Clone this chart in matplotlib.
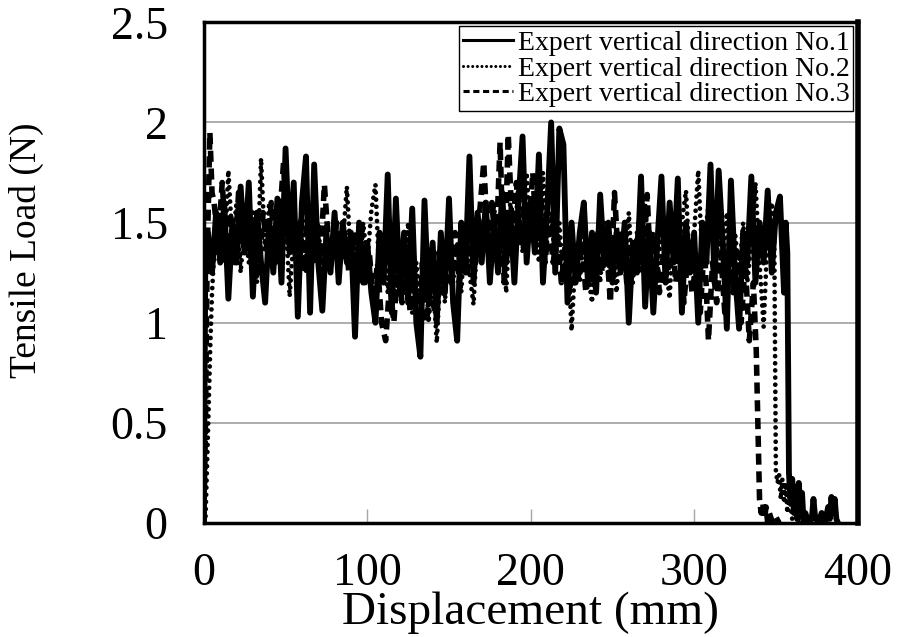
import numpy as np
import matplotlib
matplotlib.use("Agg")
import matplotlib.pyplot as plt

plt.rcParams['font.family'] = ['Liberation Serif', 'DejaVu Serif']

# series 1 (solid): readings every 2.5 mm from 2.5 mm, then the break-off tail
s1_start = [0.0, 1.0]
s1_start_load = [0.0, 1.45]
s1_body = [1.45, 1.25, 1.55, 1.3, 1.6, 1.12, 1.5, 1.3,
           1.68, 1.35, 1.7, 1.13, 1.55, 1.3, 1.1, 1.5,
           1.25, 1.62, 1.2, 1.87, 1.35, 1.7, 1.03, 1.6,
           1.83, 1.05, 1.79, 1.3, 1.06, 1.45, 1.25, 1.55,
           1.2, 1.5, 1.3, 1.45, 0.93, 1.5, 1.2, 1.4,
           1.15, 1.0, 1.45, 1.2, 1.74, 1.05, 1.62, 1.15,
           1.45, 1.1, 1.57, 1.0, 0.83, 1.61, 1.1, 1.4,
           1.0, 1.45, 1.15, 1.62, 1.1, 0.91, 1.5, 1.25,
           1.83, 1.2, 1.55, 1.3, 1.6, 1.2, 1.5, 1.25,
           1.65, 1.3, 1.55, 1.2, 1.6, 1.93, 1.3, 1.6,
           1.35, 1.84, 1.2, 1.55, 2.0, 1.25, 1.97, 1.89,
           1.1, 1.5, 1.2, 1.45, 1.6, 1.2, 1.45, 1.15,
           1.64, 1.3, 1.5, 1.2, 1.45, 1.25, 1.5, 1.0,
           1.4, 1.25, 1.73, 1.08, 1.45, 1.05, 1.4, 1.73,
           1.2, 1.6, 1.3, 1.72, 1.05, 1.5, 1.25, 1.45,
           1.0, 1.5, 1.3, 1.79, 1.2, 1.76, 1.4, 0.97,
           1.71, 1.25, 0.97, 1.45, 1.3, 1.73, 1.2, 1.5,
           1.3, 1.66, 1.25, 1.55, 1.63, 1.15]
s1_tail = [356, 357, 358, 359, 360, 361, 362, 363, 364, 365, 366, 367, 368,
           370, 372, 373, 374, 376, 378, 380, 382, 383, 384, 385, 386, 387, 388]
s1_tail_load = [1.5, 1.35, 0.25, 0.1, 0.22, 0.05, 0.18, 0.02, 0.2, 0.08, 0.15, 0.0, 0.05,
                0.0, 0.02, 0.12, 0.03, 0.0, 0.05, 0.0, 0.08, 0.02, 0.13, 0.05, 0.12, 0.02, 0.0]

# series 2 (dotted): slow ramp, readings every 2.5 mm from 7.5 mm
s2_start = [0.0, 1.0, 2.0, 3.0, 4.0, 5.0, 6.0]
s2_start_load = [0.0, 0.02, 0.3, 0.6, 0.9, 1.15, 1.3]
s2_body = [1.35, 1.55, 1.3, 1.76, 1.4, 1.6, 1.25, 1.5,
           1.3, 1.55, 1.2, 1.82, 1.35, 1.6, 1.3, 1.5,
           1.2, 1.55, 1.13, 1.45, 1.3, 1.6, 1.25, 1.55,
           1.3, 1.5, 1.2, 1.45, 1.3, 1.55, 1.25, 1.4,
           1.68, 1.3, 1.45, 1.2, 1.5, 1.3, 1.56, 1.69,
           1.2, 1.45, 1.15, 1.4, 1.1, 1.35, 1.2, 1.5,
           1.05, 1.3, 1.1, 1.4, 1.0, 1.25, 0.9, 1.3,
           1.1, 1.45, 1.2, 1.4, 1.15, 1.5, 1.25, 1.09,
           1.45, 1.3, 1.55, 1.2, 1.6, 1.3, 1.5, 1.15,
           1.6, 1.4, 1.7, 1.35, 1.75, 1.4, 1.6, 1.3,
           1.75, 1.4, 1.55, 1.3, 1.5, 1.2, 1.4, 0.96,
           1.35, 1.2, 1.45, 1.25, 1.1, 1.4, 1.2, 1.5,
           1.25, 1.4, 1.15, 1.45, 1.3, 1.55, 1.2, 1.45,
           1.25, 1.6, 1.3, 1.45, 1.2, 1.5, 1.3, 1.12,
           1.55, 1.3, 1.5, 1.66, 1.25, 1.45, 1.76, 1.3,
           1.5, 1.67, 1.2, 1.45, 1.3, 1.55, 1.2, 1.45,
           1.25, 1.5, 1.2, 1.4, 1.7, 1.3, 0.98, 1.45,
           1.6]
s2_tail = [349, 350, 351, 352, 353, 354, 355, 356, 357, 358, 360, 362, 364, 366, 368]
s2_tail_load = [1.45, 0.26, 0.2, 0.24, 0.12, 0.22, 0.1, 0.2, 0.05, 0.15, 0.02, 0.1, 0.0, 0.05, 0.0]

# series 3 (dashed): early spike, readings every 2.5 mm from 6.25 mm
s3_start = [0.0, 1.0, 2.0, 3.7, 5.0]
s3_start_load = [0.0, 0.5, 1.3, 1.95, 1.65]
s3_body = [1.6, 1.4, 1.7, 1.35, 1.55, 1.3, 1.65, 1.4,
           1.6, 1.3, 1.5, 1.25, 1.55, 1.35, 1.6, 1.3,
           1.5, 1.8, 1.4, 1.6, 1.3, 1.5, 1.25, 1.55,
           1.35, 1.5, 1.3, 1.69, 1.4, 1.35, 1.5, 1.3,
           1.45, 1.25, 1.4, 1.3, 1.45, 1.2, 1.35, 1.1,
           1.3, 1.0, 0.91, 1.2, 1.0, 1.3, 1.1, 1.35,
           1.05, 1.25, 0.95, 1.3, 1.0, 1.2, 1.05, 1.35,
           1.15, 1.4, 1.2, 1.45, 1.2, 1.4, 1.25, 1.5,
           1.3, 1.55, 1.8, 1.4, 1.6, 1.35, 1.9, 1.2,
           1.94, 1.45, 1.7, 1.4, 1.6, 1.45, 1.75, 1.4,
           1.6, 1.3, 1.5, 1.3, 1.45, 1.2, 1.4, 1.15,
           1.35, 1.2, 1.4, 1.15, 1.3, 1.2, 1.45, 1.25,
           1.4, 1.1, 1.65, 1.3, 1.45, 1.2, 1.4, 1.25,
           1.5, 1.3, 1.64, 1.2, 1.4, 1.15, 1.35, 1.25,
           1.45, 1.2, 1.4, 1.1, 1.35, 1.15, 1.3, 1.05,
           1.4, 0.91, 1.3, 1.1, 1.35, 1.05, 1.3, 1.15,
           1.35, 1.0, 1.3, 0.91, 1.2]
s3_tail = [338, 340, 341, 342, 343, 344, 345, 346, 348, 350, 352]
s3_tail_load = [0.86, 0.12, 0.05, 0.1, 0.02, 0.08, 0.0, 0.05, 0.0, 0.03, 0.0]

labels = ["Expert vertical direction No.1",
          "Expert vertical direction No.2",
          "Expert vertical direction No.3"]


def build(start, start_load, first, body, tail, tail_load):
    x = np.concatenate([start, first + 2.5 * np.arange(len(body)), tail])
    y = np.concatenate([start_load, body, tail_load])
    return x, y


x1, y1 = build(s1_start, s1_start_load, 2.5, s1_body, s1_tail, s1_tail_load)
x2, y2 = build(s2_start, s2_start_load, 7.5, s2_body, s2_tail, s2_tail_load)
x3, y3 = build(s3_start, s3_start_load, 6.25, s3_body, s3_tail, s3_tail_load)

fig = plt.figure(figsize=(8.98, 6.37), dpi=100)
ax = fig.add_axes([0.227, 0.179, 0.728, 0.786])

ax.plot(x1, y1, color='black', lw=4.2, ls='-', label=labels[0], zorder=3)
ax.plot(x2, y2, color='black', lw=3.4, ls=(0, (0.01, 1.5)), dash_capstyle='round',
        label=labels[1], zorder=2)
ax.plot(x3, y3, color='black', lw=4.0, ls=(0, (2.0, 1.2)), label=labels[2], zorder=2)

ax.set_xlim(0, 400)
ax.set_ylim(0, 2.5)
ax.set_xticks([0, 100, 200, 300, 400])
ax.set_yticks([0, 0.5, 1, 1.5, 2, 2.5])
ax.set_yticklabels(["0", "0.5", "1", "1.5", "2", "2.5"])
ax.grid(axis='y', color='#a6a6a6', lw=1.3, zorder=0)
ax.set_axisbelow(True)

ax.tick_params(axis='x', direction='in', length=10, width=1, color='#a6a6a6',
               labelsize=33, pad=21)
ax.tick_params(axis='y', length=0, labelsize=33, pad=26)
for side in ['left', 'right', 'top', 'bottom']:
    ax.spines[side].set_color('black')
    ax.spines[side].set_linewidth(2.5)
ax.spines['right'].set_linewidth(4)

ax.set_xlabel("Displacement (mm)", fontsize=34)
ax.xaxis.label.set_va('bottom')
ax.xaxis.set_label_coords(0.5, -0.222)
ax.set_ylabel("Tensile Load (N)", fontsize=27)
ax.yaxis.set_label_coords(-0.245, 0.545)

leg = ax.legend(loc='upper right', fontsize=20, frameon=True, fancybox=False,
                edgecolor='black', framealpha=1, borderaxespad=0.15,
                handlelength=1.8, handletextpad=0.15, labelspacing=0.0,
                borderpad=0.15)
leg.get_frame().set_linewidth(1.0)
for line in leg.get_lines():
    line.set_linewidth(2.2)

fig.savefig("out.png", dpi=100)
